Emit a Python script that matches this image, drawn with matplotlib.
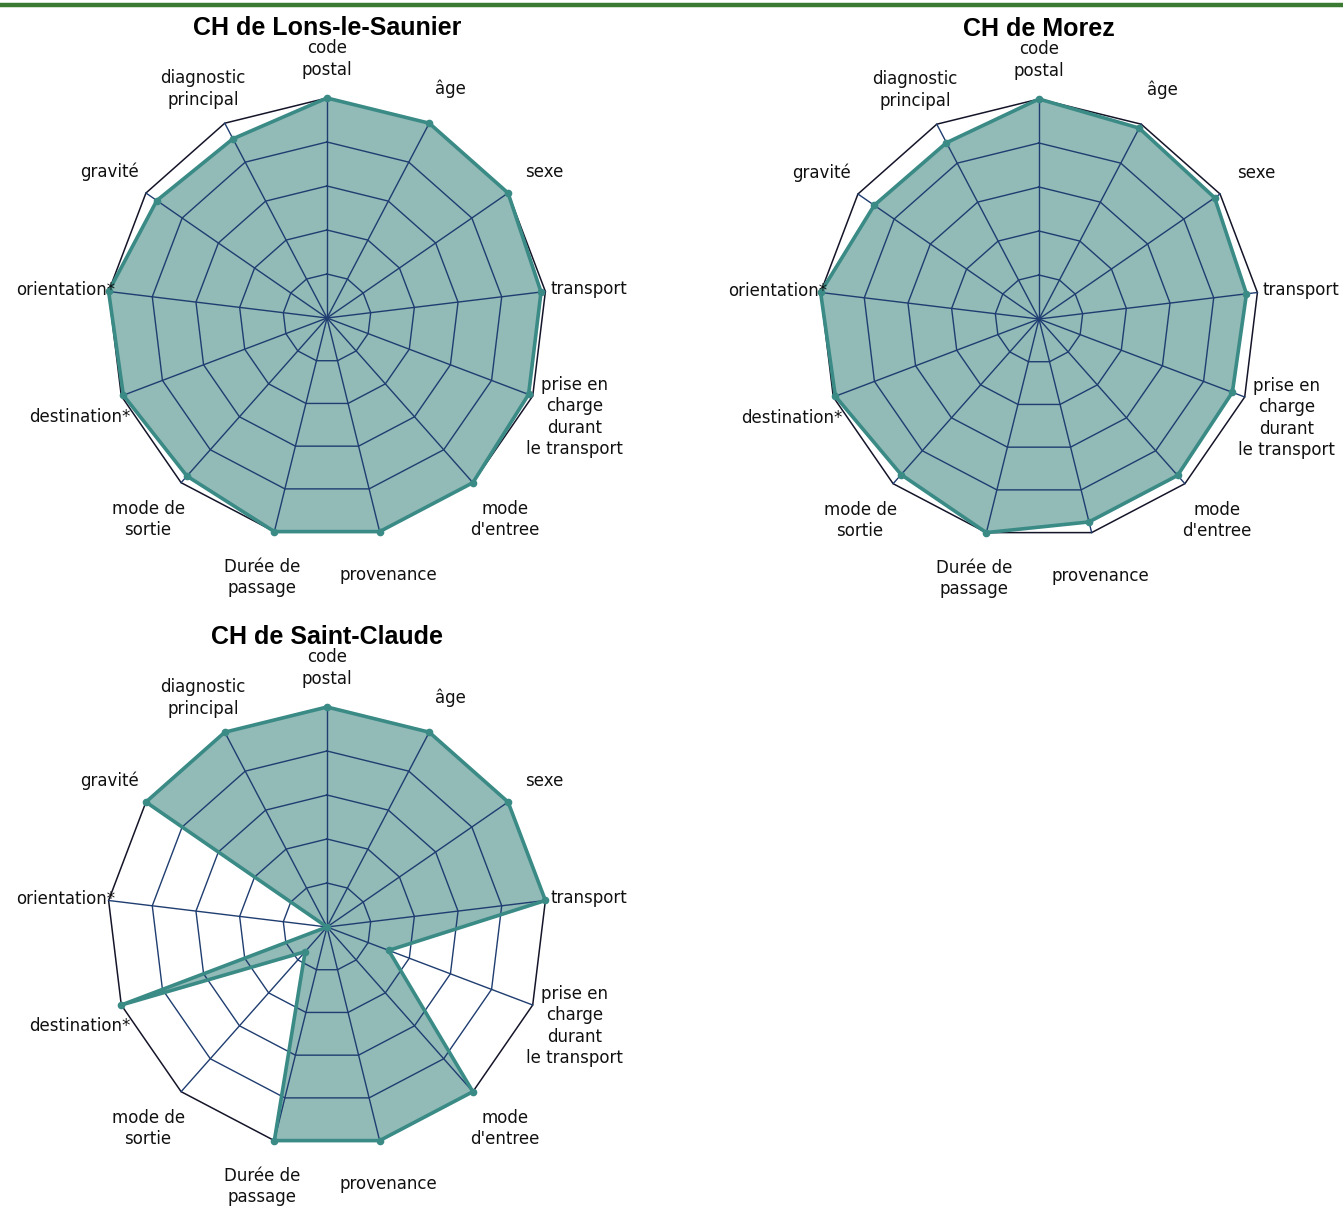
import numpy as np
import matplotlib
matplotlib.use("Agg")
import matplotlib.pyplot as plt
from matplotlib.lines import Line2D

# axes, clockwise from the top
categories = [
    "code\npostal", "âge", "sexe", "transport",
    "prise en\ncharge\ndurant\nle transport",
    "mode\nd'entree", "provenance", "Durée de\npassage",
    "mode de\nsortie", "destination*", "orientation*",
    "gravité", "diagnostic\nprincipal",
]

titles = ["CH de Lons-le-Saunier", "CH de Morez", "CH de Saint-Claude"]

# share of filled fields (0..1)
lons = [1.0, 1.0, 1.0, 0.98, 0.98, 1.0, 1.0, 1.0, 0.96, 0.99, 1.0, 0.94, 0.92]
morez = [1.0, 0.98, 0.97, 0.95, 0.94, 0.95, 0.95, 1.0, 0.945, 0.99, 1.0, 0.91, 0.905]
saint_claude = [1.0, 1.0, 1.0, 1.0, 0.3, 1.0, 1.0, 1.0, 0.15, 1.0, 0.0, 1.0, 1.0]

rings = [0.2, 0.4, 0.6, 0.8]

# label placement: offset in pixels from the outer vertex, alignment
label_layout = [
    (0, 39, "center"), (21, 34, "center"), (36, 21, "center"), (5, 2, "left"),
    (42, -21, "center"), (32, -37, "center"), (9, -43, "center"),
    (-12, -46, "center"), (-33, -37, "center"), (9, -21, "right"),
    (7, 1, "right"), (-36, 21, "center"), (-22, 34, "center"),
]

W, H = 1343, 1209
R = 220
FILL = "#92bab7"
EDGE = "#3a8a86"
GRID = "#1f3d70"

fig = plt.figure(figsize=(W / 100, H / 100), dpi=100)
fig.patch.set_facecolor("white")
fig.add_artist(Line2D([0, 1], [1 - 4.5 / H, 1 - 4.5 / H], transform=fig.transFigure,
                      color="#3b7a33", lw=3.2))


def radar(cx, cy, title, values):
    ax = fig.add_axes([(cx - R) / W, 1 - (cy + R) / H, 2 * R / W, 2 * R / H],
                      projection="polar")
    ax.set_theta_zero_location("N")
    ax.set_theta_direction(-1)
    ax.set_ylim(0, 1)
    ax.set_axis_off()

    n = len(categories)
    theta = np.linspace(0, 2 * np.pi, n, endpoint=False)
    tc = np.append(theta, theta[0])
    vals = np.append(values, values[0])

    ax.fill(tc, vals, color=FILL, zorder=1, clip_on=False)
    for r in rings:
        ax.plot(tc, np.full(n + 1, r), color=GRID, lw=1.0, zorder=2, clip_on=False)
    ax.plot(tc, np.ones(n + 1), color="#15152a", lw=1.1, zorder=2, clip_on=False)
    for t in theta:
        ax.plot([t, t], [0, 1], color=GRID, lw=1.0, zorder=2, clip_on=False)
    ax.plot(tc, vals, color=EDGE, lw=2.6, zorder=3, clip_on=False,
            marker="o", markersize=4.5, markevery=list(range(n)))

    for t, lab, (dx, dy, ha) in zip(theta, categories, label_layout):
        ax.annotate(lab, xy=(t, 1.0), xytext=(dx, dy), textcoords="offset pixels",
                    ha=ha, va="center", multialignment="center",
                    fontsize=12, linespacing=1.25, color="#111111",
                    family="DejaVu Sans", annotation_clip=False)
    ax.annotate(title, xy=(0, 1.0), xytext=(0, 70), textcoords="offset pixels",
                ha="center", va="center", fontsize=18, fontweight="bold",
                family="Liberation Sans", annotation_clip=False)


radar(327, 318, titles[0], lons)
radar(1039, 319, titles[1], morez)
radar(327, 927, titles[2], saint_claude)

fig.savefig("out.png", dpi=100)
